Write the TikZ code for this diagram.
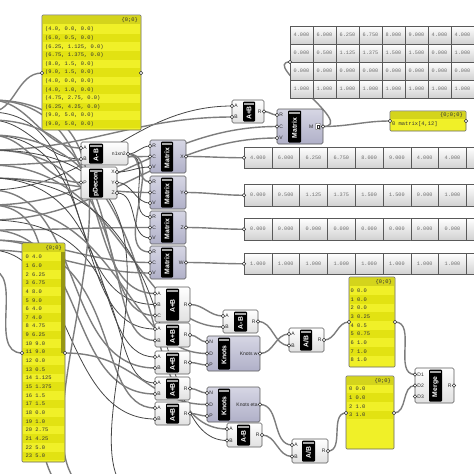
\documentclass[tikz,border=0pt]{standalone}
\usepackage{fontspec}
\setmainfont{Liberation Sans}
\newfontfamily\ghmono{Liberation Mono}
\pgfdeclarelayer{bg}
\pgfsetlayers{bg,main}
\definecolor{ghyel}{RGB}{240,240,40}
\definecolor{ghyelstripe}{RGB}{226,226,18}
\definecolor{ghyelhead}{RGB}{212,212,28}
\definecolor{ghscroll}{RGB}{150,150,20}
\definecolor{ghlav}{RGB}{214,214,228}
\definecolor{ghlavlo}{RGB}{176,176,200}
\definecolor{ghedge}{RGB}{90,90,90}
\definecolor{ghwire}{RGB}{125,125,125}
\definecolor{ghtxt}{RGB}{110,110,110}
\tikzset{
  wire/.style={draw=ghwire, line width=1.4pt},
  darkwire/.style={draw=black!72, line width=0.8pt},
  gbox/.style={rectangle, rounded corners=1.5pt, draw=ghedge, line width=0.6pt, top color=white, bottom color=black!12, inner sep=0pt, outer sep=0pt},
  lbox/.style={gbox, top color=ghlav, bottom color=ghlavlo},
  stripbox/.style={rectangle, rounded corners=1pt, fill=black, inner sep=0pt, outer sep=0pt},
  striptab/.style={rectangle, fill=black!35, inner sep=0pt, outer sep=0pt, minimum height=2.2pt},
  striplbl/.style={text=white, font=\fontsize{6.8}{6.8}\selectfont\bfseries, inner sep=0pt},
  portlbl/.style={font=\fontsize{5}{5}\selectfont, text=black!85, inner sep=0pt},
  grip/.style={circle, minimum size=3.4pt, inner sep=0pt, fill=white, draw=black!80, line width=0.5pt},
  iconbox/.style={rectangle, minimum width=5pt, minimum height=6.5pt, draw=black!70, fill=white, rounded corners=0.8pt, line width=0.4pt, inner sep=0pt},
  cell/.style={rectangle, draw=black!65, line width=0.6pt, top color=white, bottom color=black!18, inner sep=0pt, outer sep=0pt, font=\ghmono\fontsize{5.2}{5.2}\selectfont, text=ghtxt},
  panelbox/.style={rectangle, rounded corners=1pt, draw=black!60, line width=0.6pt, fill=ghyel, inner sep=0pt, outer sep=0pt},
  panelhead/.style={rectangle, fill=ghyelhead, inner sep=0pt, outer sep=0pt},
  pstripe/.style={fill=ghyelstripe},
  ptxt/.style={font=\ghmono\fontsize{5.4}{5.4}\selectfont, text=black!80, inner sep=0pt},
}
% component: id, x, y, w, h, strip offset, strip width, label, box style
\newcommand\ghcomp[9]{%
  \node[#9, minimum width=#4pt, minimum height=#5pt, anchor=north west] (#1) at (#2,#3) {};
  \node[stripbox, minimum width=#7pt, minimum height=#5pt-3pt, anchor=north west] (#1s) at (#2+#6,#3+1.5) {};
  \node[striptab, minimum width=#7pt-2pt, anchor=north] (#1t) at ([yshift=-1pt]#1s.north) {};
  \node[striplbl, rotate=90] (#1l) at ([yshift=-1.5pt]#1s.center) {#8};
}
\newcommand\ghin[4]{\coordinate (#1) at (#2,#3); \node[portlbl, anchor=west] (#1t) at (#2+2.2,#3) {#4}; \node[grip] (#1g) at (#1) {};}
\newcommand\ghout[4]{\coordinate (#1) at (#2,#3); \node[portlbl, anchor=east] (#1t) at (#2-2.2,#3) {#4}; \node[grip] (#1g) at (#1) {};}
\newcommand\ghgrip[3]{\coordinate (#1) at (#2,#3); \node[grip] (#1g) at (#1) {};}
% cells: id, x0, y0, w, h, values
\newcommand\ghcells[6]{%
  \foreach \v [count=\i from 0] in {#6} {\node[cell, minimum width=#4pt, minimum height=#5pt, anchor=north west] (#1-\i) at ({#2+\i*#4},#3) {\v};}
}
\newcommand\wire[3][]{\draw[wire,#1] (#2) to[out=0,in=180] (#3);}
\begin{document}
\begin{tikzpicture}[x=1pt,y=-1pt]
\useasboundingbox (0,0) rectangle (474,474);

% ---------- top-left panel ----------
\node[panelbox, minimum width=99pt, minimum height=115pt, anchor=north west] (tlp) at (42,15) {};
\node[panelhead, minimum width=97pt, minimum height=8pt, anchor=north west] (tlph) at (43,16) {};
\node[ptxt, anchor=east] (tlpid) at (138,20) {\{0;0\}};
\foreach \i in {1,3,5,7,9,11} {\fill[pstripe] (43,{29.5+8.6*\i-4.3}) rectangle (140,{29.5+8.6*\i+4.3});}
\foreach \t [count=\i from 0] in {{(4.0, 0.0, 0.0)},{(6.0, 0.5, 0.0)},{(6.25, 1.125, 0.0)},{(6.75, 1.375, 0.0)},{(8.0, 1.5, 0.0)},{(9.0, 1.5, 0.0)},{(4.0, 0.0, 0.0)},{(4.0, 1.0, 0.0)},{(4.75, 2.75, 0.0)},{(6.25, 4.25, 0.0)},{(9.0, 5.0, 0.0)},{(9.0, 5.0, 0.0)}}
  {\node[ptxt, anchor=west] (tlp-\i) at (45,{29.5+8.6*\i}) {\t};}
\ghgrip{tlpin}{42}{73}
\ghgrip{tlpout}{141}{73}

% ---------- top-right table ----------
\ghcells{tta}{290}{26}{23}{18}{4.000,6.000,6.250,6.750,8.000,9.000,4.000,4.000}
\ghcells{ttb}{290}{44}{23}{18}{0.000,0.500,1.125,1.375,1.500,1.500,0.000,1.000}
\ghcells{ttc}{290}{62}{23}{18}{0.000,0.000,0.000,0.000,0.000,0.000,0.000,0.000}
\ghcells{ttd}{290}{80}{23}{18}{1.000,1.000,1.000,1.000,1.000,1.000,1.000,1.000}
\ghgrip{ttin}{290}{62}

% ---------- top A+B and Matrix ----------
\ghcomp{tab}{232}{100}{32}{23}{11}{12}{A+B}{gbox}
\ghin{taba}{232}{106}{A}
\ghin{tabb}{232}{117}{B}
\ghout{tabr}{264}{111.5}{R}
\ghcomp{tm}{277}{109}{46}{35}{11}{13}{Matrix}{lbox}
\ghin{tmr}{277}{115}{R}
\ghin{tmc}{277}{126.5}{C}
\ghin{tmv}{277}{138}{V}
\coordinate (tmm) at (323,126.5);
\node[portlbl, anchor=east] (tmmt) at (313.5,126.5) {M};
\node[iconbox] (tmico) at (318,126.5) {};
\node[rectangle, draw=black!80, line width=0.4pt, minimum width=2.4pt, minimum height=3pt, inner sep=0pt] (tmico2) at (tmico.center) {};
\node[grip] (tmmg) at (tmm) {};

% ---------- panel matrix[4,12] ----------
\node[panelbox, minimum width=76pt, minimum height=20pt, anchor=north west] (yp1) at (390,111) {};
\node[panelhead, minimum width=74pt, minimum height=7pt, anchor=north west] (yp1h) at (391,112) {};
\node[ptxt, anchor=east] (yp1id) at (463,115.5) {\{0;0;0\}};
\node[ptxt, anchor=west] (yp1t) at (392,124.5) {0 matrix[4,12]};
\ghgrip{yp1in}{390}{121}
\ghgrip{yp1out}{466}{121}

% ---------- A-B and pDecon ----------
\ghcomp{abm}{81}{142}{47}{23}{8}{14}{A-B}{gbox}
\ghin{abma}{81}{148}{A}
\ghin{abmb}{81}{159}{B}
\ghout{abmr}{128}{154}{n1xn2}
\ghcomp{pd}{81}{167}{36}{32}{8}{14}{pDecon}{gbox}
\ghin{pdp}{81}{182.5}{P}
\ghout{pdx}{117}{172}{X}
\ghout{pdy}{117}{182.5}{Y}
\ghout{pdz}{117}{193}{Z}

% ---------- four Matrix components ----------
\ghcomp{ma}{150}{140}{36}{33}{11}{12}{Matrix}{lbox}
\ghin{maR}{150}{146}{R}\ghin{maC}{150}{156.5}{C}\ghin{maV}{150}{167}{V}\ghout{maO}{186}{156.5}{X}
\ghcomp{mb}{150}{176}{36}{33}{11}{12}{Matrix}{lbox}
\ghin{mbR}{150}{182}{R}\ghin{mbC}{150}{192.5}{C}\ghin{mbV}{150}{203}{V}\ghout{mbO}{186}{192.5}{Y}
\ghcomp{mc}{150}{211}{36}{33}{11}{12}{Matrix}{lbox}
\ghin{mcR}{150}{217}{R}\ghin{mcC}{150}{227.5}{C}\ghin{mcV}{150}{238}{V}\ghout{mcO}{186}{227.5}{Z}
\ghcomp{md}{150}{246}{36}{33}{11}{12}{Matrix}{lbox}
\ghin{mdR}{150}{252}{R}\ghin{mdC}{150}{262.5}{C}\ghin{mdV}{150}{273}{V}\ghout{mdO}{186}{262.5}{W}

% ---------- four value rows (last column cut by the edge) ----------
\ghcells{tx}{244}{147}{27.8}{21.5}{4.000,6.000,6.250,6.750,8.000,9.000,4.000,4.000,{}}
\ghgrip{txin}{244}{157.75}
\ghcells{ty}{244}{184.5}{27.8}{21.5}{0.000,0.500,1.125,1.375,1.500,1.500,0.000,1.000,{}}
\ghgrip{tyin}{244}{195.25}
\ghcells{tz}{244}{218.5}{27.8}{21.5}{0.000,0.000,0.000,0.000,0.000,0.000,0.000,0.000,{}}
\ghgrip{tzin}{244}{229.25}
\ghcells{tw}{244}{253}{27.8}{21.5}{1.000,1.000,1.000,1.000,1.000,1.000,1.000,1.000,{}}
\ghgrip{twin}{244}{263.75}

% ---------- bottom-left panel ----------
\node[panelbox, minimum width=43pt, minimum height=219pt, anchor=north west] (blp) at (22,243) {};
\node[panelhead, minimum width=41pt, minimum height=8pt, anchor=north west] (blph) at (23,244) {};
\node[ptxt, anchor=east] (blpid) at (62,248.5) {\{0;0\}};
\foreach \i in {1,3,...,23} {\fill[pstripe] (23,{257+8.65*\i-4.3}) rectangle (64,{257+8.65*\i+4.3});}
\fill[ghscroll] (60.5,252) rectangle (64.5,353);
\foreach \v [count=\i from 0] in {4.0,6.0,6.25,6.75,8.0,9.0,4.0,4.0,4.75,6.25,9.0,9.0,0.0,0.5,1.125,1.375,1.5,1.5,0.0,1.0,2.75,4.25,5.0,5.0}
  {\node[ptxt, anchor=west] (blp-\i) at (25.5,{257+8.65*\i}) {\i\ \v};}
\ghgrip{blpin}{22}{353}
\ghgrip{blpout}{65}{353}

% ---------- lower components ----------
\ghcomp{ca}{155}{287}{35}{35}{11}{13}{A+B}{gbox}
\ghin{caA}{155}{293.5}{A}\ghin{caB}{155}{304.5}{B}\ghin{caC}{155}{315.5}{C}\ghout{caR}{190}{304.5}{R}
\ghcomp{cb}{155}{323}{35}{24}{11}{13}{A+B}{gbox}
\ghin{cbA}{155}{329}{A}\ghin{cbB}{155}{340.5}{B}\ghout{cbR}{190}{335}{R}
\ghcomp{cc}{223}{310}{35}{23}{11}{13}{A-B}{gbox}
\ghin{ccA}{223}{316}{A}\ghin{ccB}{223}{327}{B}\ghout{ccR}{258}{321.5}{R}
\ghcomp{kw}{207}{336}{53}{35}{11}{12}{Knots}{lbox}
\ghin{kwN}{207}{342}{N}\ghin{kwD}{207}{353.5}{D}\ghin{kwP}{207}{365}{P}\ghout{kwo}{260}{353.5}{Knots w}
\ghcomp{cd}{155}{351}{35}{23}{11}{13}{A+B}{gbox}
\ghin{cdA}{155}{357}{A}\ghin{cdB}{155}{368}{B}\ghout{cdR}{190}{362.5}{R}
\ghcomp{ce}{289}{328}{35}{24}{11}{12}{A/B}{gbox}
\ghin{ceA}{289}{334}{A}\ghin{ceB}{289}{345.5}{B}\ghout{ceR}{324}{340}{R}
\ghcomp{cf}{155}{377}{35}{23}{11}{13}{A+B}{gbox}
\ghin{cfA}{155}{383}{A}\ghin{cfB}{155}{394}{B}\ghout{cfR}{190}{388.5}{R}
\ghcomp{ke}{207}{387}{53}{35}{11}{12}{Knots}{lbox}
\ghin{keN}{207}{393}{N}\ghin{keD}{207}{404.5}{D}\ghin{keP}{207}{416}{P}\ghout{keo}{260}{404.5}{Knots eta}
\ghcomp{cg}{155}{402}{35}{23}{11}{13}{A+B}{gbox}
\ghin{cgA}{155}{408}{A}\ghin{cgB}{155}{419}{B}\ghout{cgR}{190}{413.5}{R}
\ghcomp{ch}{227}{423}{35}{24}{10}{13}{A-B}{gbox}
\ghin{chA}{227}{429}{A}\ghin{chB}{227}{440.5}{B}\ghout{chR}{262}{435}{R}
\ghcomp{ci}{292}{439}{36}{24}{10}{13}{A/B}{gbox}
\ghin{ciA}{292}{445}{A}\ghin{ciB}{292}{456.5}{B}\ghout{ciR}{328}{451}{R}

% ---------- right panels and Merge ----------
\node[panelbox, minimum width=46pt, minimum height=90pt, anchor=north west] (yp2) at (349,277) {};
\node[panelhead, minimum width=44pt, minimum height=8pt, anchor=north west] (yp2h) at (350,278) {};
\node[ptxt, anchor=east] (yp2id) at (392,282) {\{0;0\}};
\foreach \i in {1,3,5,7} {\fill[pstripe] (350,{290.7+8.67*\i-4.3}) rectangle (394,{290.7+8.67*\i+4.3});}
\foreach \v [count=\i from 0] in {0.0,0.0,0.0,0.25,0.5,0.75,1.0,1.0,1.0}
  {\node[ptxt, anchor=west] (yp2-\i) at (350.5,{290.7+8.67*\i}) {\i\ \v};}
\ghgrip{yp2in}{349}{322}
\ghgrip{yp2out}{395}{322}

\node[panelbox, minimum width=48pt, minimum height=73pt, anchor=north west] (yp3) at (346,376) {};
\node[panelhead, minimum width=46pt, minimum height=8pt, anchor=north west] (yp3h) at (347,377) {};
\node[ptxt, anchor=east] (yp3id) at (391,381) {\{0;0\}};
\foreach \i in {1,3} {\fill[pstripe] (347,{389+8.67*\i-4.3}) rectangle (393,{389+8.67*\i+4.3});}
\foreach \v [count=\i from 0] in {0.0,0.0,1.0,1.0}
  {\node[ptxt, anchor=west] (yp3-\i) at (349,{389+8.67*\i}) {\i\ \v};}
\ghgrip{yp3in}{346}{413}
\ghgrip{yp3out}{394}{413}

\ghcomp{mg}{415}{368}{39}{35}{14}{13}{Merge}{gbox}
\ghin{mgA}{415}{374.5}{D1}\ghin{mgB}{415}{385.5}{D2}\ghin{mgC}{415}{396.5}{D3}\ghout{mgR}{454}{385.5}{R}

% ---------- wires ----------
\begin{pgfonlayer}{bg}
\fill[white] (-20,-20) rectangle (494,494);
\foreach \yy in {100,112,120,135,150,165,178,190,205,220,230,240,250,270}
  {\coordinate (s\yy) at (-10,\yy);}
\coordinate (b1) at (120,500);
\coordinate (b2) at (165,505);
\coordinate (b3) at (95,500);
% top
\wire{s112}{tlpin}
\wire{s100}{abma}
\wire[darkwire]{s120}{abmb}
\wire{s135}{pdp}
\wire[darkwire]{s190}{taba}
\wire{s150}{tabb}
\wire{s205}{tmc}
\wire{s220}{tmv}
\wire{tabr}{tmr}
\draw[wire] (tmm) .. controls +(35,0) and +(-30,0) .. (ttin);
\wire{tmm}{yp1in}
\wire[darkwire]{abmr}{maR}
\wire{abmr}{mbR}
\wire[darkwire]{abmr}{mcR}
\wire{abmr}{mdR}
\wire{s165}{maC}
\wire[darkwire]{pdx}{maV}
\wire{s178}{mbC}
\wire[darkwire]{pdy}{mbV}
\wire{s230}{mcC}
\wire[darkwire]{pdz}{mcV}
\wire{s240}{mdC}
\wire{s250}{mdV}
\wire{maO}{txin}
\wire{mbO}{tyin}
\wire{mcO}{tzin}
\wire{mdO}{twin}
\wire{s270}{blpin}
% lower inputs from the left
\wire[out looseness=1.3, in looseness=0.8]{s100}{caA}
\wire[darkwire, out looseness=1.1]{s112}{caB}
\wire[out looseness=1.5, in looseness=0.7]{s120}{caC}
\wire[darkwire, out looseness=1.2, in looseness=0.9]{s135}{cbA}
\wire[out looseness=1.6, in looseness=0.6]{s150}{cbB}
\wire[out looseness=1.2, in looseness=0.8]{s165}{ccB}
\wire[darkwire, out looseness=1.4, in looseness=0.7]{s178}{cdA}
\wire[out looseness=1.0]{s190}{cdB}
\wire[out looseness=1.3, in looseness=0.8]{s205}{kwD}
\wire[darkwire, out looseness=1.7, in looseness=0.6]{s220}{cfA}
\wire[out looseness=1.1]{s230}{cfB}
\wire[out looseness=1.5, in looseness=0.7]{s240}{cgA}
\wire[darkwire, out looseness=0.9]{s250}{cgB}
\wire[out looseness=1.3, in looseness=0.7]{s135}{chA}
\wire[darkwire, out looseness=1.5, in looseness=0.6]{s178}{chB}
\wire[out looseness=1.2]{blpout}{keD}
\wire[out looseness=1.4]{s100}{b1}
\wire[darkwire, out looseness=1.8]{s150}{b2}
\wire{s205}{b3}
% lower internal
\wire{caR}{ccA}
\wire{cbR}{kwN}
\wire{cdR}{kwP}
\wire{ccR}{ceB}
\wire{kwo}{ceA}
\wire{ceR}{yp2in}
\wire{cfR}{keN}
\wire{cgR}{keP}
\wire{keo}{ciA}
\wire{chR}{ciB}
\wire{ciR}{yp3in}
\wire{yp2out}{mgA}
\wire{yp3out}{mgB}
\end{pgfonlayer}
\end{tikzpicture}
\end{document}
